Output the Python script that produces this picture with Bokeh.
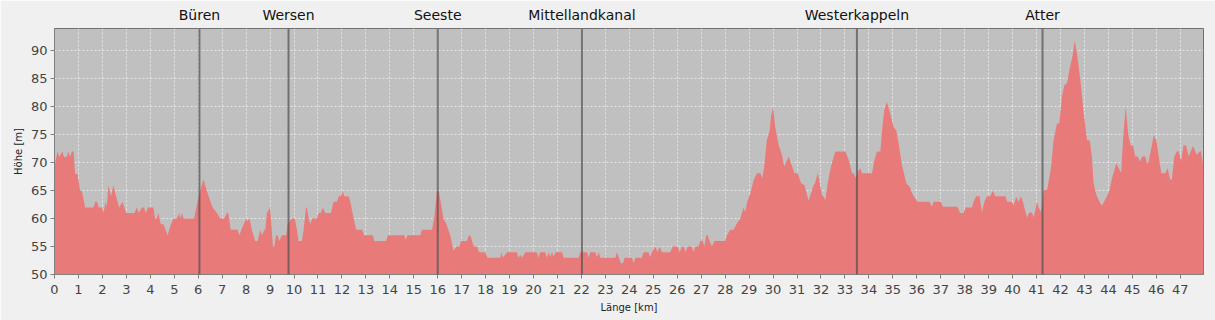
from bokeh.plotting import figure
from bokeh.models import LinearAxis, FixedTicker, Span, Range1d
from bokeh.embed import file_html
from bokeh.resources import INLINE

km = [0.0, 0.13, 0.2, 0.33, 0.4, 0.5, 0.58, 0.65, 0.72, 0.8, 0.86, 0.96, 1.07, 1.14, 1.28, 1.63, 1.7, 1.77,
      1.85, 1.98, 2.05, 2.13, 2.18, 2.25, 2.36, 2.46, 2.57, 2.7, 2.84, 2.99, 3.34, 3.44, 3.52, 3.65, 3.74,
      3.81, 3.9, 4.13, 4.2, 4.27, 4.34, 4.44, 4.55, 4.72, 4.86, 4.97, 5.11, 5.2, 5.25, 5.32, 5.39, 5.83,
      5.97, 6.08, 6.22, 6.36, 6.6, 6.78, 6.92, 7.08, 7.2, 7.25, 7.36, 7.64, 7.72, 7.8, 8.0, 8.05, 8.14,
      8.24, 8.38, 8.48, 8.59, 8.66, 8.76, 8.8, 8.87, 9.0, 9.12, 9.18, 9.25, 9.31, 9.39, 9.49, 9.67, 9.73,
      9.91, 10.03, 10.12, 10.19, 10.33, 10.4, 10.5, 10.54, 10.61, 10.68, 10.75, 10.96, 11.03, 11.12, 11.2,
      11.3, 11.54, 11.65, 11.79, 11.87, 11.96, 12.03, 12.1, 12.28, 12.35, 12.49, 12.6, 12.84, 12.93, 13.29,
      13.35, 13.84, 13.92, 14.6, 14.66, 14.74, 15.27, 15.34, 15.76, 15.85, 15.97, 16.05, 16.24, 16.35,
      16.52, 16.66, 16.77, 16.91, 16.97, 17.22, 17.3, 17.38, 17.5, 17.64, 17.72, 17.98, 18.08, 18.61,
      18.66, 18.72, 18.89, 19.31, 19.36, 19.45, 19.53, 19.65, 20.14, 20.2, 20.28, 20.49, 20.56, 20.63,
      20.7, 20.77, 20.84, 20.92, 21.19, 21.25, 21.88, 21.95, 22.23, 22.3, 22.37, 22.58, 22.65, 22.72,
      22.79, 23.42, 23.48, 23.65, 23.73, 23.8, 24.11, 24.18, 24.25, 24.52, 24.59, 24.8, 24.87, 24.94,
      25.08, 25.18, 25.26, 25.36, 25.71, 25.81, 26.01, 26.1, 26.2, 26.27, 26.35, 26.43, 26.61, 26.68,
      26.75, 26.89, 26.96, 27.06, 27.13, 27.21, 27.27, 27.35, 27.45, 27.55, 28.0, 28.07, 28.21, 28.35,
      28.49, 28.63, 28.77, 28.84, 28.92, 29.05, 29.19, 29.33, 29.47, 29.55, 29.63, 29.74, 29.86, 29.91,
      30.0, 30.09, 30.23, 30.37, 30.47, 30.65, 30.75, 30.89, 31.03, 31.17, 31.31, 31.48, 31.58, 31.69,
      31.75, 31.87, 31.97, 32.04, 32.11, 32.18, 32.28, 32.37, 32.46, 32.6, 33.02, 33.16, 33.3, 33.36,
      33.46, 33.53, 33.64, 33.71, 34.13, 34.23, 34.34, 34.48, 34.55, 34.64, 34.75, 34.89, 35.03, 35.14,
      35.24, 35.38, 35.56, 35.7, 35.84, 36.03, 36.53, 36.63, 36.7, 37.0, 37.09, 37.7, 37.81, 37.95, 38.04,
      38.3, 38.37, 38.48, 38.62, 38.72, 38.82, 38.93, 39.07, 39.17, 39.28, 39.7, 39.77, 39.97, 40.04,
      40.15, 40.25, 40.35, 40.43, 40.6, 40.7, 40.81, 40.88, 41.02, 41.09, 41.19, 41.3, 41.44, 41.6, 41.71,
      41.85, 41.95, 42.06, 42.16, 42.27, 42.38, 42.51, 42.59, 42.69, 42.83, 42.97, 43.11, 43.22, 43.31,
      43.38, 43.5, 43.63, 43.73, 43.84, 43.94, 44.05, 44.15, 44.33, 44.43, 44.53, 44.61, 44.72, 44.84,
      44.94, 45.02, 45.12, 45.22, 45.33, 45.4, 45.54, 45.61, 45.68, 45.82, 45.89, 46.0, 46.1, 46.21,
      46.38, 46.47, 46.58, 46.65, 46.75, 46.87, 46.94, 47.04, 47.14, 47.25, 47.35, 47.53, 47.69, 47.79,
      47.86, 47.97]

hoehe = [69.5, 72, 71, 72, 71, 71, 72, 71, 72, 72, 68, 68, 65, 65, 62, 62, 63, 63,
         62, 62, 61, 63, 62, 66, 64, 66, 64, 62, 63, 61, 61, 62, 61, 62, 62,
         61, 62, 62, 60, 60, 61, 59, 59, 57, 59, 60, 60, 61, 60, 61, 60, 60,
         63, 65, 67, 65, 62, 61, 60, 60, 61, 61, 58, 58, 57, 58, 60, 59.5, 60,
         58, 56, 56, 58, 57, 58, 58, 61, 62, 55, 55, 57, 57, 56, 57, 57, 59,
         60, 60, 58, 56, 56, 58, 62, 62, 60, 59, 60, 60, 61, 61, 62,
         61, 61, 63, 63, 64, 64, 65, 64, 64, 63, 60, 58, 58, 57, 57,
         56, 56, 57, 57, 56.2, 57, 57, 58, 58, 60, 65, 64.8, 60, 59.1,
         57, 54.3, 55, 55, 56, 56, 57, 56.8, 55, 55, 54, 54, 53, 53,
         54, 53, 54, 54, 53, 53.5, 53, 54, 54, 53, 54, 54, 53, 54,
         53.2, 54, 53.2, 54, 54, 53, 53, 54, 54, 53, 54, 54, 53.1, 54,
         53, 53, 54, 52, 52, 53, 53, 52, 53, 53, 54, 54, 53.1, 54,
         55, 54, 55, 54, 54, 55, 55, 54, 55, 55, 54, 55, 55, 54,
         55, 55, 56, 56.1, 55, 57, 57, 56, 55, 56, 56, 57, 58, 58,
         59.1, 60, 62, 61.2, 63, 64.5, 66.9, 68.1, 68.1, 67.2, 69.3, 74, 75.8, 78.2,
         80, 76.4, 73.2, 71.4, 69.3, 71.1, 69.9, 68.1, 68.1, 66.3, 66, 63.2, 64.5, 66,
         66.3, 68.2, 65.7, 64.2, 63.9, 63.3, 66.3, 68.4, 70, 72, 72, 70.5, 68.1, 68.1,
         67.2, 68.4, 69, 68.1, 68.1, 70.5, 72, 72, 75.8, 79.4, 80.9, 78.8, 76.4, 75.8,
         73.5, 69.6, 66.3, 65.7, 64.2, 63, 63, 62.1, 63, 63, 62.1, 62.1, 61, 61, 62,
         62, 63, 64, 64, 61.1, 63, 64, 64, 65, 64, 64, 63, 63, 62.3,
         63.9, 63, 64, 63, 60.2, 61.1, 61.1, 60.2, 63, 62, 61.2, 65.1, 65.1, 69, 74,
         77, 77, 81.8, 83.9, 84.2, 86.8, 89.2, 91.9, 89.5, 84.8, 78.8, 74, 74, 71.1,
         66.3, 64.2, 63, 62.3, 63.2, 64, 65.1, 67.2, 69.9, 69, 68.2, 74, 80, 74.6,
         73, 73.2, 71.1, 71.1, 70.2, 71.1, 71.1, 69.9, 70.2, 73.2, 74.9, 74, 71.1, 68.1,
         68.1, 69, 67, 67, 71.1, 72.1, 71.9, 70.2, 73.2, 73, 71.1, 73, 71.4, 71.9,
         72.1, 69.3]

orte = ["Büren", "Wersen", "Seeste", "Mittellandkanal", "Westerkappeln", "Atter"]
orte_km = [6.05, 9.77, 16.0, 22.02, 33.5, 41.25]

x_ticks = list(range(0, 48))
y_ticks = [50, 55, 60, 65, 70, 75, 80, 85, 90]

p = figure(width=1215, height=320, output_backend="svg", toolbar_location=None,
           x_range=Range1d(0, 47.97), y_range=Range1d(50, 94),
           min_border_left=54, min_border_right=12, min_border_top=28, min_border_bottom=46)
p.background_fill_color = "#C0C0C0"
p.border_fill_color = "#F0F0F0"
p.outline_line_color = "#707070"
p.outline_line_width = 1

p.varea(x=km, y1=[50] * len(km), y2=hoehe, fill_color="#E97A7A", fill_alpha=1.0)

for g in (p.xgrid, p.ygrid):
    g.grid_line_color = "white"
    g.grid_line_alpha = 0.6
    g.grid_line_dash = "2 2"
    g.grid_line_width = 1
p.xgrid.ticker = FixedTicker(ticks=x_ticks)
p.ygrid.ticker = FixedTicker(ticks=y_ticks)

for k in orte_km:
    p.add_layout(Span(location=k, dimension="height", line_color="#505050",
                      line_alpha=0.7, line_width=2))

p.xaxis.ticker = FixedTicker(ticks=x_ticks)
p.yaxis.ticker = FixedTicker(ticks=y_ticks)
p.xaxis.axis_label = "Länge [km]"
p.yaxis.axis_label = "Höhe [m]"
for ax in (p.xaxis[0], p.yaxis[0]):
    ax.axis_line_color = "#808080"
    ax.major_tick_line_color = "#808080"
    ax.major_tick_out = 4
    ax.major_tick_in = 0
    ax.minor_tick_line_color = None
    ax.major_label_text_font = "DejaVu Sans"
    ax.major_label_text_font_size = "13px"
    ax.major_label_text_color = "#444444"
    ax.major_label_standoff = 3
    ax.axis_label_text_font = "DejaVu Sans"
    ax.axis_label_text_font_size = "10px"
    ax.axis_label_text_font_style = "normal"
    ax.axis_label_text_color = "#222222"
    ax.axis_label_standoff = 4
p.xaxis[0].major_label_standoff = 6
p.xaxis[0].axis_label_standoff = 5

top = LinearAxis(ticker=FixedTicker(ticks=orte_km),
                 major_label_overrides={k: n for k, n in zip(orte_km, orte)})
top.axis_line_color = None
top.major_tick_line_color = None
top.minor_tick_line_color = None
top.major_tick_out = 0
top.major_label_standoff = 6
top.major_label_text_font = "DejaVu Sans"
top.major_label_text_font_size = "14px"
top.major_label_text_color = "#111111"
p.add_layout(top, "above")

open("out.html", "w").write(file_html(p, INLINE))
